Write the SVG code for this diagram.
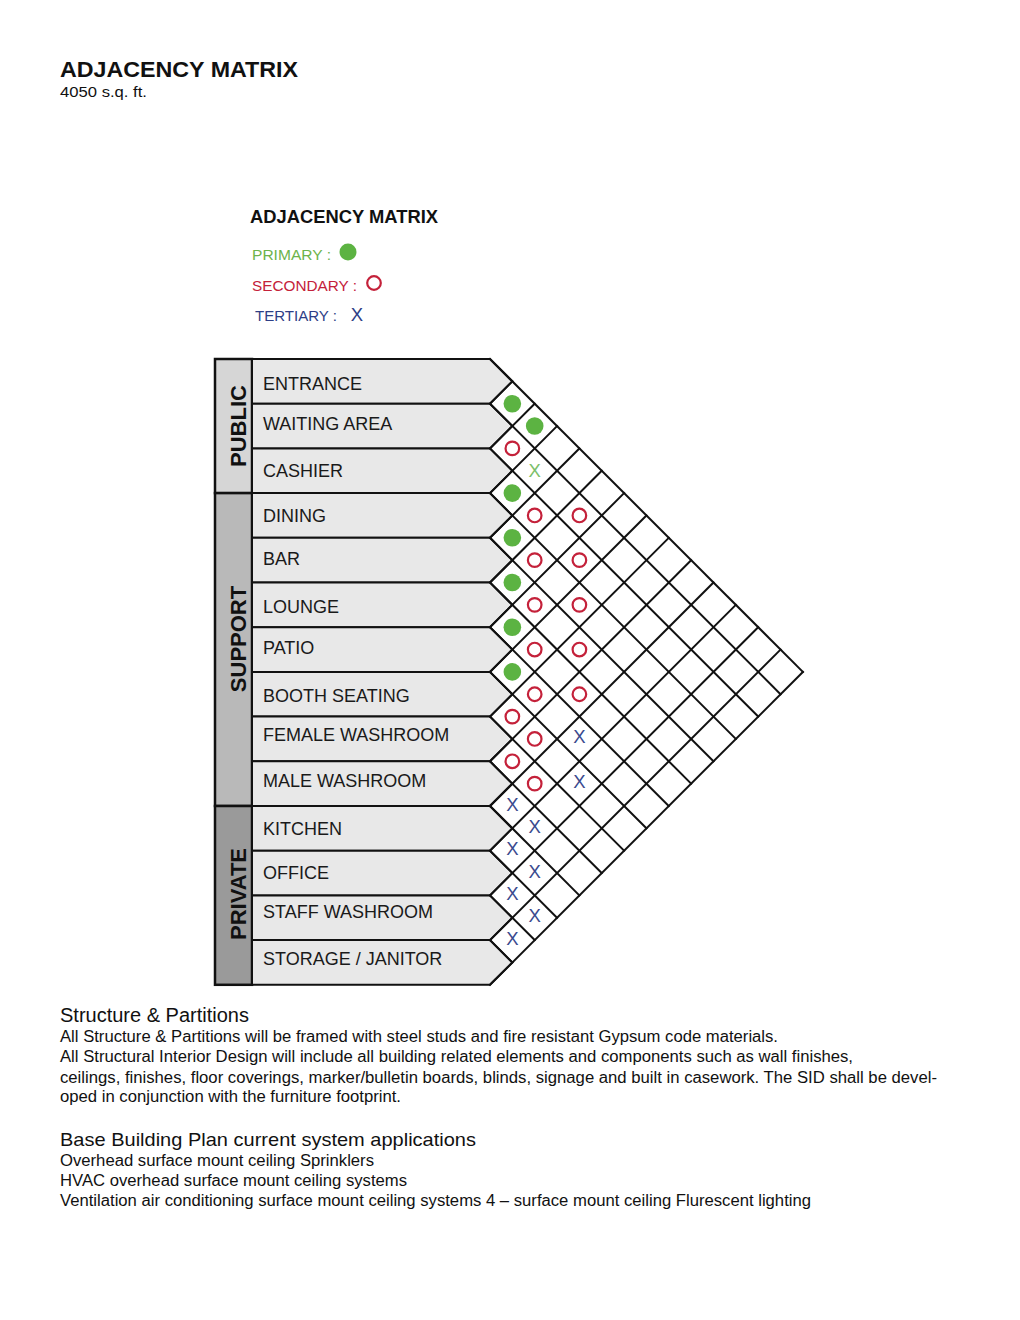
<svg xmlns="http://www.w3.org/2000/svg" width="1020" height="1320" viewBox="0 0 1020 1320">
<style>
text{font-family:"Liberation Sans",Arial,sans-serif;}
.lbl{font-size:18px;fill:#1a1a1a;}
.box{fill:#e8e8e8;stroke:#111;stroke-width:2;stroke-linejoin:miter;}
.cat{stroke:#111;stroke-width:2.5;}
.catt{font-size:22px;font-weight:bold;fill:#111;text-anchor:middle;}
.grid line{stroke:#111;stroke-width:2;stroke-linecap:square;}
.p{fill:#5cb342;}
.s{fill:none;stroke:#c4213a;stroke-width:2.2;}
.x{font-size:18.5px;fill:#3a4a8e;text-anchor:middle;}
.xg{font-size:18.5px;fill:#7cbf6a;text-anchor:middle;}
.body{font-size:16px;fill:#111;}
</style>
<rect width="1020" height="1320" fill="#fff"/>

<g id="title">
<text x="60" y="77" font-size="22.5" font-weight="bold" fill="#111" textLength="238" lengthAdjust="spacingAndGlyphs">ADJACENCY MATRIX</text>
<text x="60" y="97" font-size="15" fill="#111" textLength="87" lengthAdjust="spacingAndGlyphs">4050 s.q. ft.</text>
</g>

<g id="legend">
<text x="250" y="223" font-size="18" font-weight="bold" fill="#111" textLength="188" lengthAdjust="spacingAndGlyphs">ADJACENCY MATRIX</text>
<text x="252" y="260" font-size="15.5" fill="#6db34b" textLength="79" lengthAdjust="spacingAndGlyphs">PRIMARY :</text>
<circle class="p" cx="348" cy="252" r="8.5"/>
<text x="252" y="291" font-size="15.5" fill="#c4213a" textLength="105" lengthAdjust="spacingAndGlyphs">SECONDARY :</text>
<circle class="s" cx="374" cy="283" r="6.8"/>
<text x="255" y="321" font-size="15.5" fill="#2e3e86" textLength="82" lengthAdjust="spacingAndGlyphs">TERTIARY :</text>
<text x="357" y="321" font-size="18.5" fill="#2e3e86" text-anchor="middle">X</text>
</g>

<g id="categories">
<g id="cat-public"><rect class="cat" x="215" y="359" width="37" height="134.1" fill="#d6d6d6"/><text class="catt" transform="translate(245.5,426) rotate(-90)">PUBLIC</text></g>
<g id="cat-support"><rect class="cat" x="215" y="493.1" width="37" height="312.9" fill="#b9b9b9"/><text class="catt" transform="translate(245.5,639) rotate(-90)">SUPPORT</text></g>
<g id="cat-private"><rect class="cat" x="215" y="806" width="37" height="178.8" fill="#9a9a9a"/><text class="catt" transform="translate(245.5,894) rotate(-90)">PRIVATE</text></g>
</g>

<g id="rows">
<g id="r-entrance"><polygon class="box" points="252,359 490,359 512.35,381.35 490,403.7 252,403.7"/><text class="lbl" x="263" y="390">ENTRANCE</text></g>
<g id="r-waiting"><polygon class="box" points="252,403.7 490,403.7 512.35,426.05 490,448.4 252,448.4"/><text class="lbl" x="263" y="430">WAITING AREA</text></g>
<g id="r-cashier"><polygon class="box" points="252,448.4 490,448.4 512.35,470.75 490,493.1 252,493.1"/><text class="lbl" x="263" y="477">CASHIER</text></g>
<g id="r-dining"><polygon class="box" points="252,493.1 490,493.1 512.35,515.45 490,537.8 252,537.8"/><text class="lbl" x="263" y="522">DINING</text></g>
<g id="r-bar"><polygon class="box" points="252,537.8 490,537.8 512.35,560.15 490,582.5 252,582.5"/><text class="lbl" x="263" y="565">BAR</text></g>
<g id="r-lounge"><polygon class="box" points="252,582.5 490,582.5 512.35,604.85 490,627.2 252,627.2"/><text class="lbl" x="263" y="613">LOUNGE</text></g>
<g id="r-patio"><polygon class="box" points="252,627.2 490,627.2 512.35,649.55 490,671.9 252,671.9"/><text class="lbl" x="263" y="654">PATIO</text></g>
<g id="r-booth"><polygon class="box" points="252,671.9 490,671.9 512.35,694.25 490,716.6 252,716.6"/><text class="lbl" x="263" y="702">BOOTH SEATING</text></g>
<g id="r-female"><polygon class="box" points="252,716.6 490,716.6 512.35,738.95 490,761.3 252,761.3"/><text class="lbl" x="263" y="741">FEMALE WASHROOM</text></g>
<g id="r-male"><polygon class="box" points="252,761.3 490,761.3 512.35,783.65 490,806 252,806"/><text class="lbl" x="263" y="787">MALE WASHROOM</text></g>
<g id="r-kitchen"><polygon class="box" points="252,806 490,806 512.35,828.35 490,850.7 252,850.7"/><text class="lbl" x="263" y="835">KITCHEN</text></g>
<g id="r-office"><polygon class="box" points="252,850.7 490,850.7 512.35,873.05 490,895.4 252,895.4"/><text class="lbl" x="263" y="879">OFFICE</text></g>
<g id="r-staff"><polygon class="box" points="252,895.4 490,895.4 512.35,917.75 490,940.1 252,940.1"/><text class="lbl" x="263" y="918">STAFF WASHROOM</text></g>
<g id="r-storage"><polygon class="box" points="252,940.1 490,940.1 512.35,962.45 490,984.8 252,984.8"/><text class="lbl" x="263" y="965">STORAGE / JANITOR</text></g>
</g>

<g id="connectors" class="grid">
<line x1="490" y1="359" x2="802.9" y2="671.9"/>
<line x1="490" y1="403.7" x2="780.55" y2="694.25"/>
<line x1="490" y1="448.4" x2="758.2" y2="716.6"/>
<line x1="490" y1="493.1" x2="735.85" y2="738.95"/>
<line x1="490" y1="537.8" x2="713.5" y2="761.3"/>
<line x1="490" y1="582.5" x2="691.15" y2="783.65"/>
<line x1="490" y1="627.2" x2="668.8" y2="806"/>
<line x1="490" y1="671.9" x2="646.45" y2="828.35"/>
<line x1="490" y1="716.6" x2="624.1" y2="850.7"/>
<line x1="490" y1="761.3" x2="601.75" y2="873.05"/>
<line x1="490" y1="806" x2="579.4" y2="895.4"/>
<line x1="490" y1="850.7" x2="557.05" y2="917.75"/>
<line x1="490" y1="895.4" x2="534.7" y2="940.1"/>
<line x1="490" y1="940.1" x2="512.35" y2="962.45"/>
<line x1="490" y1="403.7" x2="512.35" y2="381.35"/>
<line x1="490" y1="448.4" x2="534.7" y2="403.7"/>
<line x1="490" y1="493.1" x2="557.05" y2="426.05"/>
<line x1="490" y1="537.8" x2="579.4" y2="448.4"/>
<line x1="490" y1="582.5" x2="601.75" y2="470.75"/>
<line x1="490" y1="627.2" x2="624.1" y2="493.1"/>
<line x1="490" y1="671.9" x2="646.45" y2="515.45"/>
<line x1="490" y1="716.6" x2="668.8" y2="537.8"/>
<line x1="490" y1="761.3" x2="691.15" y2="560.15"/>
<line x1="490" y1="806" x2="713.5" y2="582.5"/>
<line x1="490" y1="850.7" x2="735.85" y2="604.85"/>
<line x1="490" y1="895.4" x2="758.2" y2="627.2"/>
<line x1="490" y1="940.1" x2="780.55" y2="649.55"/>
<line x1="490" y1="984.8" x2="802.9" y2="671.9"/>
</g>

<g id="marks">
<circle class="p" cx="512.35" cy="403.7" r="8.8"/>
<circle class="s" cx="512.35" cy="448.4" r="6.8"/>
<circle class="p" cx="512.35" cy="493.1" r="8.8"/>
<circle class="p" cx="512.35" cy="537.8" r="8.8"/>
<circle class="p" cx="512.35" cy="582.5" r="8.8"/>
<circle class="p" cx="512.35" cy="627.2" r="8.8"/>
<circle class="p" cx="512.35" cy="671.9" r="8.8"/>
<circle class="s" cx="512.35" cy="716.6" r="6.8"/>
<circle class="s" cx="512.35" cy="761.3" r="6.8"/>
<text class="x" x="512.35" y="810.5">X</text>
<text class="x" x="512.35" y="855.2">X</text>
<text class="x" x="512.35" y="899.9">X</text>
<text class="x" x="512.35" y="944.6">X</text>

<circle class="p" cx="534.7" cy="426.05" r="8.8"/>
<text class="xg" x="534.7" y="477.4">X</text>
<circle class="s" cx="534.7" cy="515.45" r="6.8"/>
<circle class="s" cx="534.7" cy="560.15" r="6.8"/>
<circle class="s" cx="534.7" cy="604.85" r="6.8"/>
<circle class="s" cx="534.7" cy="649.55" r="6.8"/>
<circle class="s" cx="534.7" cy="694.25" r="6.8"/>
<circle class="s" cx="534.7" cy="738.95" r="6.8"/>
<circle class="s" cx="534.7" cy="783.65" r="6.8"/>
<text class="x" x="534.7" y="833">X</text>
<text class="x" x="534.7" y="877.7">X</text>
<text class="x" x="534.7" y="922.4">X</text>

<circle class="s" cx="579.4" cy="515.45" r="6.8"/>
<circle class="s" cx="579.4" cy="560.15" r="6.8"/>
<circle class="s" cx="579.4" cy="604.85" r="6.8"/>
<circle class="s" cx="579.4" cy="649.55" r="6.8"/>
<circle class="s" cx="579.4" cy="694.25" r="6.8"/>
<text class="x" x="579.4" y="743">X</text>
<text class="x" x="579.4" y="787.7">X</text>
</g>

<g id="notes">
<text x="60" y="1022" font-size="19.5" fill="#111" textLength="189" lengthAdjust="spacingAndGlyphs">Structure &amp; Partitions</text>
<text class="body" x="60" y="1042" textLength="718" lengthAdjust="spacingAndGlyphs">All Structure &amp; Partitions will be framed with steel studs and fire resistant Gypsum code materials.</text>
<text class="body" x="60" y="1062" textLength="793" lengthAdjust="spacingAndGlyphs">All Structural Interior Design will include all building related elements and components such as wall finishes,</text>
<text class="body" x="60" y="1083" textLength="877" lengthAdjust="spacingAndGlyphs">ceilings, finishes, floor coverings, marker/bulletin boards, blinds, signage and built in casework. The SID shall be devel-</text>
<text class="body" x="60" y="1102" textLength="341" lengthAdjust="spacingAndGlyphs">oped in conjunction with the furniture footprint.</text>
<text x="60" y="1146" font-size="19" fill="#111" textLength="416" lengthAdjust="spacingAndGlyphs">Base Building Plan current system applications</text>
<text class="body" x="60" y="1166" textLength="314" lengthAdjust="spacingAndGlyphs">Overhead surface mount ceiling Sprinklers</text>
<text class="body" x="60" y="1186" textLength="347" lengthAdjust="spacingAndGlyphs">HVAC overhead surface mount ceiling systems</text>
<text class="body" x="60" y="1206" textLength="751" lengthAdjust="spacingAndGlyphs">Ventilation air conditioning surface mount ceiling systems 4 – surface mount ceiling Flurescent lighting</text>
</g>
</svg>
